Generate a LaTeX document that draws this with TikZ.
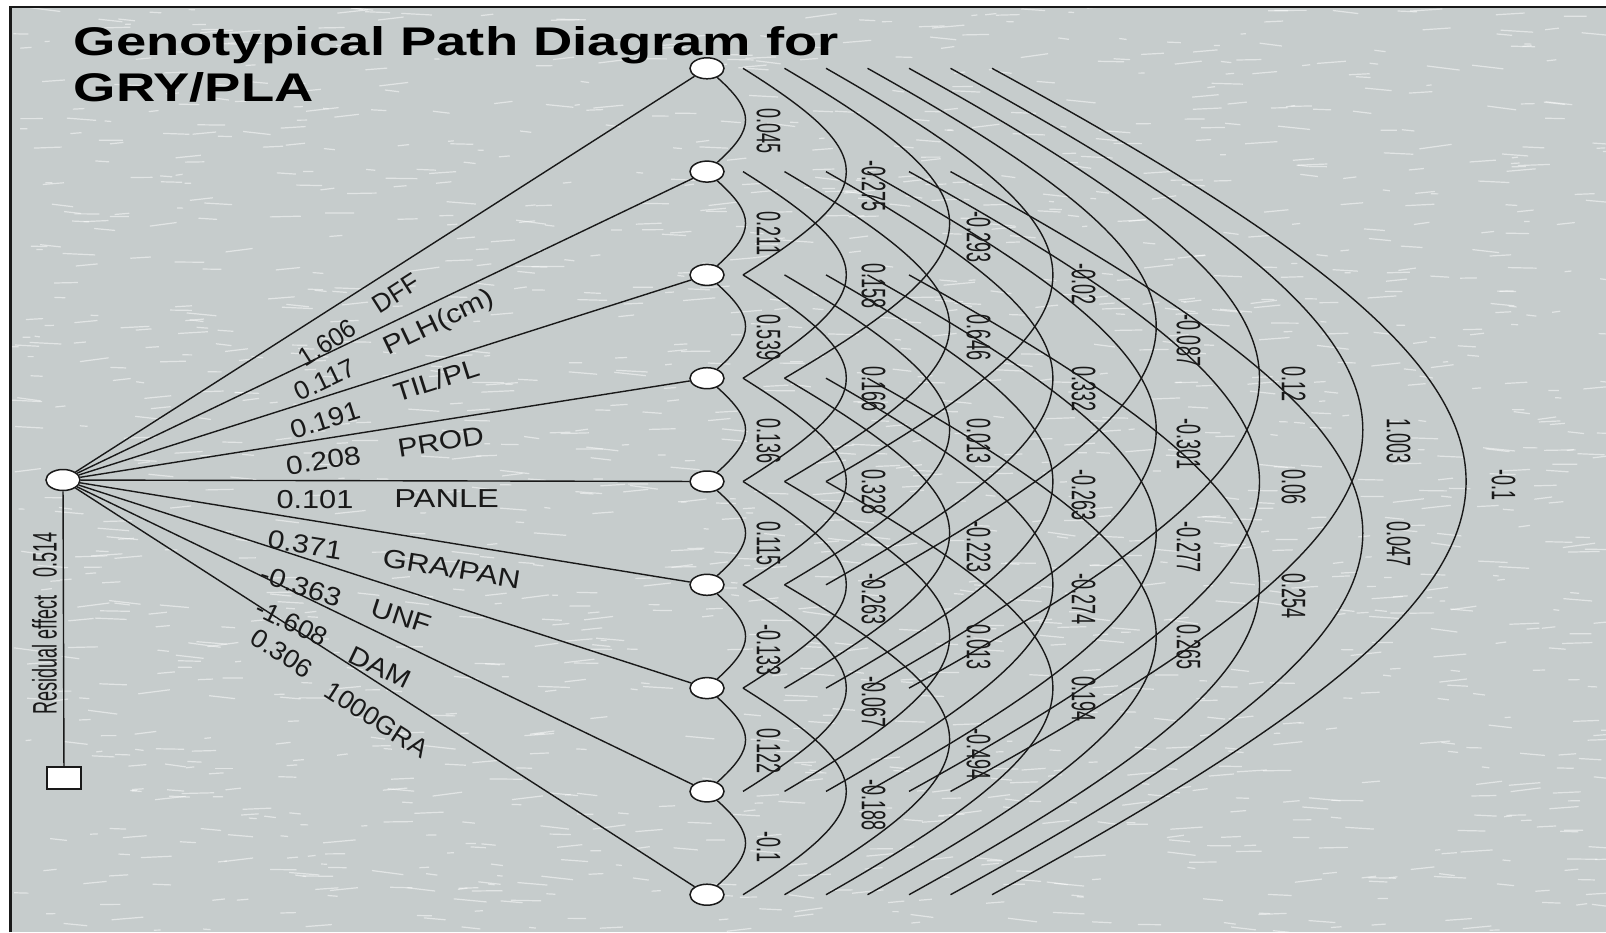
\documentclass[tikz,border=0pt]{standalone}
\usepackage{fontspec}
\setmainfont{Liberation Sans}
\usepackage{graphicx}
\usetikzlibrary{shapes.geometric,calc}

\definecolor{marble}{RGB}{198,204,204}
\definecolor{ink}{RGB}{25,25,25}

\tikzset{
  var/.style={ellipse, draw=ink, fill=white, line width=0.75pt,
    minimum width=17pt, minimum height=10.5pt, inner sep=0pt},
  resbox/.style={rectangle, draw=ink, fill=white, line width=0.75pt,
    minimum width=17pt, minimum height=11pt, inner sep=0pt},
  link/.style={draw=ink, line width=0.7pt},
  clab/.style={inner sep=0pt, text=ink, font=\fontsize{17pt}{17pt}\selectfont},
  plab/.style={inner sep=0pt, anchor=center, text=ink,
    font=\fontsize{13pt}{13pt}\selectfont},
  ttl/.style={anchor=base west, inner sep=0pt, text=black,
    font=\fontsize{20pt}{20pt}\selectfont\bfseries},
  streak/.style={white, line width=0.6pt, opacity=0.5},
}

% condensed text for the vertical coefficients
\newcommand\squeeze[1]{\scalebox{0.53}[1]{#1}}

% direct-effect label on the path from L to N#1:
% value centred at (#2,#3), name centred at (#4,#5), widths #6 and #7
\newcommand\leftlab[9]{%
  \pgfmathsetmacro\yy{68.3+103.3*(#1-1)}%
  \pgfmathsetmacro\ang{atan((480-\yy)/644)}%
  \pgfmathsetmacro\fa{#6*0.923}%
  \pgfmathsetmacro\fb{#7*0.923}%
  \node[plab, rotate=\ang] (v#1) at (#2,#3) {\scalebox{\fa}[1]{#8}};
  \node[plab, rotate=\ang] (n#1) at (#4,#5) {\scalebox{\fb}[1]{#9}};
}

% correlation label for the arc spanning #1 steps, starting at N#2
\newcommand\corr[3]{%
  \pgfmathsetmacro\lx{768.5+105*(#1-1)}%
  \pgfmathsetmacro\ly{68.3+103.3*(#2-1)+51.65*#1-12}%
  \node[clab, rotate=-90, anchor=west] (c#1-#2) at (\lx,\ly) {\squeeze{#3}};
}

\begin{document}
\begin{tikzpicture}[x=0.5pt, y=-0.5pt]
\useasboundingbox (0,0) rectangle (1606,932);
\fill[white] (0,0) rectangle (1606,932);
\fill[marble] (10.5,7) rectangle (1606,932);

% marbled paper: short light streaks
\begin{scope}
  \clip (10.5,7) rectangle (1606,932);
  \pgfmathsetseed{4217}
  \foreach \n in {1,...,1600} {
    \pgfmathsetmacro\px{10+rnd*1600}
    \pgfmathsetmacro\py{7+rnd*925}
    \pgfmathsetmacro\ln{5+rnd*28}
    \pgfmathsetmacro\an{(rnd-0.5)*16}
    \draw[streak] (\px,\py) -- ++(\an:\ln);
  }
\end{scope}
\draw[ink, line width=1.2pt] (10.5,932) -- (10.5,7) -- (1606,7);

% title
\node[ttl] (title1) at (73.5,55) {\scalebox{1.36}[1]{Genotypical Path Diagram for}};
\node[ttl] (title2) at (73.5,101) {\scalebox{1.36}[1]{GRY/PLA}};

% variables
\node[var] (L) at (63,480) {};
\foreach \i in {1,...,9} \node[var] (N\i) at (707,{68.3+103.3*(\i-1)}) {};
\node[resbox] (R) at (64,778) {};

% direct paths and residual
\foreach \i in {1,...,9} \draw[link] (L) -- (N\i);
\draw[link] (L) -- (R);
\node[clab, rotate=90] (res) at (44.5,623.5) {\squeeze{Residual effect\hspace{1em}0.514}};

% correlations between neighbours
\foreach \i in {1,...,8} {
  \pgfmathtruncatemacro\j{\i+1}
  \draw[link] (N\i) .. controls ($(N\i)+(48,43)$) and ($(N\j)+(48,-43)$) .. (N\j);
}

% correlations spanning two or more steps
\foreach \k in {2,...,8} {
  \pgfmathsetmacro\xo{36+41.5*(\k-2)}
  \pgfmathsetmacro\cx{\xo+4/3*(103.3*(\k-1)-41.5*(\k-2))}
  \pgfmathsetmacro\cy{0.4167*103.3*\k}
  \pgfmathtruncatemacro\last{9-\k}
  \foreach \i in {1,...,\last} {
    \pgfmathtruncatemacro\j{\i+\k}
    \draw[link] ($(N\i)+(\xo,0)$) .. controls ($(N\i)+(\cx,\cy)$)
      and ($(N\j)+(\cx,-\cy)$) .. ($(N\j)+(\xo,0)$);
  }
}

% direct effects
\leftlab{1}{327.3}{342.7}{395.7}{293.3}{1.04}{1.08}{1.606}{DFF}
\leftlab{2}{325}{380}{439}{323.3}{1.10}{1.26}{0.117}{PLH(cm)}
\leftlab{3}{325}{420}{436.7}{380}{1.19}{1.26}{0.191}{TIL/PL}
\leftlab{4}{323.3}{460.7}{440.7}{441.7}{1.25}{1.25}{0.208}{PROD}
\leftlab{5}{315}{499.3}{446.7}{498.7}{1.28}{1.36}{0.101}{PANLE}
\leftlab{6}{305}{545}{451.7}{568.3}{1.25}{1.31}{0.371}{GRA/PAN}
\leftlab{7}{300.7}{586}{401.7}{616.7}{1.23}{1.24}{-0.363}{UNF}
\leftlab{8}{291.7}{622.7}{380}{667.3}{1.125}{1.23}{-1.608}{DAM}
\leftlab{9}{281.7}{653.3}{376.7}{720}{1.13}{1.11}{0.306}{1000GRA}

% correlation coefficients
\corr{1}{1}{0.045}\corr{1}{2}{0.211}\corr{1}{3}{0.539}\corr{1}{4}{0.136}
\corr{1}{5}{0.115}\corr{1}{6}{-0.133}\corr{1}{7}{0.122}\corr{1}{8}{-0.1}
\corr{2}{1}{-0.275}\corr{2}{2}{0.158}\corr{2}{3}{0.166}\corr{2}{4}{0.328}
\corr{2}{5}{-0.263}\corr{2}{6}{-0.067}\corr{2}{7}{-0.188}
\corr{3}{1}{-0.293}\corr{3}{2}{0.646}\corr{3}{3}{0.013}\corr{3}{4}{-0.223}
\corr{3}{5}{0.013}\corr{3}{6}{-0.494}
\corr{4}{1}{-0.02}\corr{4}{2}{0.332}\corr{4}{3}{-0.263}\corr{4}{4}{-0.274}
\corr{4}{5}{0.194}
\corr{5}{1}{-0.087}\corr{5}{2}{-0.301}\corr{5}{3}{-0.277}\corr{5}{4}{0.265}
\corr{6}{1}{0.12}\corr{6}{2}{0.06}\corr{6}{3}{0.254}
\corr{7}{1}{1.003}\corr{7}{2}{0.047}
\corr{8}{1}{-0.1}
\end{tikzpicture}
\end{document}
